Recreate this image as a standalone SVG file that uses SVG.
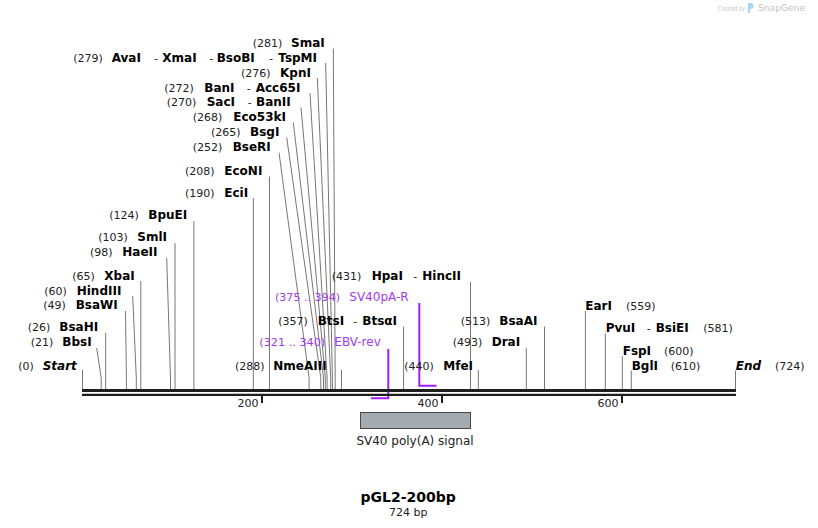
<svg xmlns="http://www.w3.org/2000/svg" width="818" height="528" viewBox="0 0 818 528">
<style>
text{font-family:"DejaVu Sans","Verdana",sans-serif}
.n{font-size:11px;fill:#222}
.b{font-size:12px;font-weight:bold;fill:#000}
.bi{font-size:12px;font-weight:bold;font-style:italic;fill:#000}
.p{font-size:12px;fill:#a23bf0}
.pn{font-size:11px;fill:#a23bf0}
.l{stroke:#777;stroke-width:1;fill:none}
.pl{stroke:#a020f0;stroke-width:2;fill:none}
.bb{stroke:#1e1e1e;fill:none}
.tk{stroke:#1e1e1e;stroke-width:2}
.t{font-size:11px;fill:#222}
</style>
<rect width="818" height="528" fill="#fff"/>
<g id="watermark">
<text x="718" y="10.5" font-size="7" fill="#c9c9c9" textLength="27" lengthAdjust="spacingAndGlyphs">Created by</text>
<path d="M748,3 h2.5 a3,3 0 0 1 0,6 h-0.5 v4 h-2 z" fill="#a9d6f2"/>
<text x="758" y="11" font-size="9" fill="#c4c4c4" textLength="47" lengthAdjust="spacingAndGlyphs">SnapGene</text>
</g>
<g id="connectors">
<path class="l" d="M82.5,370V389"/>
<path class="l" d="M96.7,348L101.2,378V389"/>
<path class="l" d="M105.7,333V389"/>
<path class="l" d="M125.5,311L126.4,378V389"/>
<path class="l" d="M132.7,296L136.3,378V389"/>
<path class="l" d="M140.8,281V389"/>
<path class="l" d="M166.7,258L170.5,378V389"/>
<path class="l" d="M175,243V389"/>
<path class="l" d="M193.9,221V389"/>
<path class="l" d="M253.3,198V389"/>
<path class="l" d="M269.5,176.5V389"/>
<path class="l" d="M279,152.5L309.1,378V389"/>
<path class="l" d="M286.7,137.5L320.8,378V389"/>
<path class="l" d="M293.3,122.5L323.5,378V389"/>
<path class="l" d="M301,107.5L325.3,378V389"/>
<path class="l" d="M310,93L327.1,378V389"/>
<path class="l" d="M317.3,78L330.7,378V389"/>
<path class="l" d="M325.7,63L332.4,378V389"/>
<path class="l" d="M333.3,48.5L335.2,378V389"/>
<path class="l" d="M341.5,370V389"/>
<path class="l" d="M403.6,326.5V389"/>
<path class="l" d="M470.5,282V389"/>
<path class="l" d="M478.3,370V389"/>
<path class="l" d="M526.3,348V389"/>
<path class="l" d="M544.5,326.5V389"/>
<path class="l" d="M585.4,311V389"/>
<path class="l" d="M605.3,333.5V389"/>
<path class="l" d="M622.3,356V389"/>
<path class="l" d="M631.3,370.5V389"/>
<path class="l" d="M735.5,370.5V389"/>
<path class="pl" d="M388.3,349V398.3H371"/>
<path class="pl" d="M419.3,303V385.7H436.5"/>
</g>
<g id="backbone">
<line class="bb" x1="82" y1="390.5" x2="736" y2="390.5" stroke-width="3"/>
<line class="bb" x1="82" y1="394.9" x2="736" y2="394.9" stroke-width="2.4"/>
<line class="tk" x1="262" y1="396" x2="262" y2="403"/>
<line class="tk" x1="442" y1="396" x2="442" y2="403"/>
<line class="tk" x1="622" y1="396" x2="622" y2="403"/>
<text class="t" x="258.5" y="407" text-anchor="end">200</text>
<text class="t" x="438.5" y="407" text-anchor="end">400</text>
<text class="t" x="618.5" y="407" text-anchor="end">600</text>
</g>
<g id="feature-sv40">
<rect x="360.5" y="412.5" width="110" height="16" fill="#a5aab1" stroke="#4a4a4a" stroke-width="1"/>
<text x="415" y="445" font-size="12" fill="#222" text-anchor="middle">SV40 poly(A) signal</text>
</g>
<g id="site-SmaI"><text class="n" x="252.7" y="47">(281)</text><text class="b" x="291" y="47">SmaI</text></g>
<g id="site-AvaI"><text class="n" x="73.3" y="61.5">(279)</text><text class="b" x="111.7" y="61.5">AvaI</text><text class="n" x="154.3" y="61.5">-</text><text class="b" x="162.3" y="61.5">XmaI</text><text class="n" x="209.3" y="61.5">-</text><text class="b" x="216.7" y="61.5">BsoBI</text><text class="n" x="269" y="61.5">-</text><text class="b" x="278.3" y="61.5">TspMI</text></g>
<g id="site-KpnI"><text class="n" x="241" y="76.5">(276)</text><text class="b" x="280" y="76.5">KpnI</text></g>
<g id="site-BanI"><text class="n" x="164.3" y="91.5">(272)</text><text class="b" x="204.3" y="91.5">BanI</text><text class="n" x="246.7" y="91.5">-</text><text class="b" x="255.7" y="91.5">Acc65I</text></g>
<g id="site-SacI"><text class="n" x="166.7" y="105.5">(270)</text><text class="b" x="206.7" y="105.5">SacI</text><text class="n" x="247.7" y="105.5">-</text><text class="b" x="256" y="105.5">BanII</text></g>
<g id="site-Eco53kI"><text class="n" x="192.7" y="120.5">(268)</text><text class="b" x="233.3" y="120.5">Eco53kI</text></g>
<g id="site-BsgI"><text class="n" x="211" y="135.5">(265)</text><text class="b" x="250" y="135.5">BsgI</text></g>
<g id="site-BseRI"><text class="n" x="192.7" y="150.5">(252)</text><text class="b" x="232.7" y="150.5">BseRI</text></g>
<g id="site-EcoNI"><text class="n" x="185" y="174.5">(208)</text><text class="b" x="224.3" y="174.5">EcoNI</text></g>
<g id="site-EciI"><text class="n" x="185" y="196.5">(190)</text><text class="b" x="224.3" y="196.5">EciI</text></g>
<g id="site-BpuEI"><text class="n" x="109.3" y="218.5">(124)</text><text class="b" x="148.3" y="218.5">BpuEI</text></g>
<g id="site-SmlI"><text class="n" x="98.3" y="241">(103)</text><text class="b" x="137.3" y="241">SmlI</text></g>
<g id="site-HaeII"><text class="n" x="90" y="256">(98)</text><text class="b" x="122.3" y="256">HaeII</text></g>
<g id="site-XbaI"><text class="n" x="72.3" y="279.5">(65)</text><text class="b" x="104.3" y="279.5">XbaI</text></g>
<g id="site-HindIII"><text class="n" x="44.3" y="294.5">(60)</text><text class="b" x="76.7" y="294.5">HindIII</text></g>
<g id="site-BsaWI"><text class="n" x="43.3" y="308.8">(49)</text><text class="b" x="75.7" y="308.8">BsaWI</text></g>
<g id="site-BsaHI"><text class="n" x="27.7" y="331">(26)</text><text class="b" x="59.3" y="331">BsaHI</text></g>
<g id="site-BbsI"><text class="n" x="30.7" y="345.5">(21)</text><text class="b" x="62.3" y="345.5">BbsI</text></g>
<g id="site-Start"><text class="n" x="18.3" y="369.5">(0)</text><text class="bi" x="42.7" y="369.5">Start</text></g>
<g id="site-NmeAIII"><text class="n" x="235" y="369.5">(288)</text><text class="b" x="273.3" y="369.5">NmeAIII</text></g>
<g id="site-HpaI"><text class="n" x="331.7" y="279.5">(431)</text><text class="b" x="371.7" y="279.5">HpaI</text><text class="n" x="413.3" y="279.5">-</text><text class="b" x="422.3" y="279.5">HincII</text></g>
<g id="primer-SV40pA-R"><text class="pn" x="275" y="301" textLength="65" lengthAdjust="spacingAndGlyphs">(375 .. 394)</text><text class="p" x="349.3" y="301">SV40pA-R</text></g>
<g id="site-BtsI"><text class="n" x="278.3" y="324.5">(357)</text><text class="b" x="317.7" y="324.5">BtsI</text><text class="n" x="353.3" y="324.5">-</text><text class="b" x="362.3" y="324.5">BtsαI</text></g>
<g id="primer-EBV-rev"><text class="pn" x="259.3" y="346" textLength="66" lengthAdjust="spacingAndGlyphs">(321 .. 340)</text><text class="p" x="334.3" y="346">EBV-rev</text></g>
<g id="site-MfeI"><text class="n" x="404.3" y="369.5">(440)</text><text class="b" x="443.3" y="369.5">MfeI</text></g>
<g id="site-BsaAI"><text class="n" x="460.7" y="324.5">(513)</text><text class="b" x="499.3" y="324.5">BsaAI</text></g>
<g id="site-DraI"><text class="n" x="452.7" y="346">(493)</text><text class="b" x="491.7" y="346">DraI</text></g>
<g id="site-EarI"><text class="b" x="585.3" y="309.5">EarI</text><text class="n" x="626" y="309.5">(559)</text></g>
<g id="site-PvuI"><text class="b" x="605.7" y="332">PvuI</text><text class="n" x="646.7" y="332">-</text><text class="b" x="655.7" y="332">BsiEI</text><text class="n" x="703.3" y="332">(581)</text></g>
<g id="site-FspI"><text class="b" x="622.7" y="354.5">FspI</text><text class="n" x="664" y="354.5">(600)</text></g>
<g id="site-BglI"><text class="b" x="631.7" y="369.5">BglI</text><text class="n" x="670.7" y="369.5">(610)</text></g>
<g id="site-End"><text class="bi" x="735.7" y="369.5">End</text><text class="n" x="775" y="369.5">(724)</text></g>
<g id="title">
<text x="408.2" y="501.7" font-size="14" font-weight="bold" fill="#000" text-anchor="middle">pGL2-200bp</text>
<text x="408.3" y="515.7" font-size="11" fill="#222" text-anchor="middle">724 bp</text>
</g>
</svg>
